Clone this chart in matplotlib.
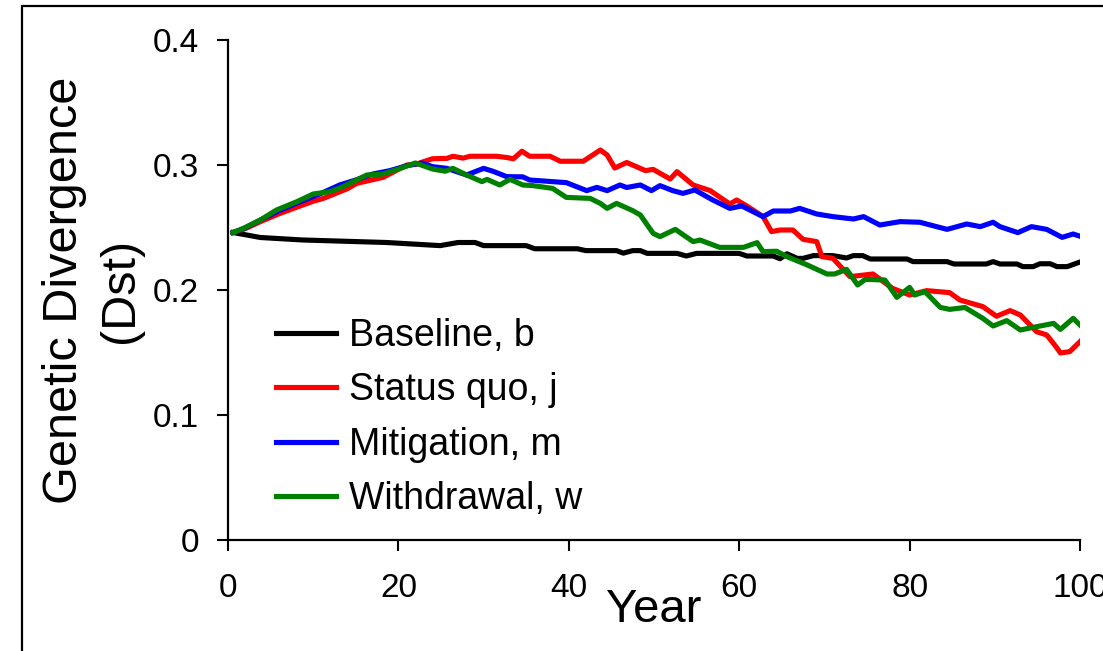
import matplotlib
matplotlib.use("Agg")
import matplotlib.pyplot as plt
from matplotlib.patches import Rectangle

plt.rcParams['font.family'] = ['Liberation Sans', 'DejaVu Sans']

# Baseline, b
base_yr = [0.6, 3.8, 8.8, 18.6, 24.9, 27, 29, 30, 35, 36, 41, 42, 45.6, 46.4, 47.5,
           48.4, 49.2, 52.7, 53.8, 55, 60, 60.9, 64, 64.8, 65.6, 66.8, 67.5, 68.7, 71,
           72.6, 73.4, 74.5, 75.4, 79.7, 80.4, 84.4, 85.2, 89, 89.8, 90.6, 92.6, 93.3,
           94.5, 95.3, 96.5, 97.3, 98.5, 100]
base_val = [0.246, 0.242, 0.240, 0.238, 0.2355, 0.238, 0.238, 0.2355, 0.2355, 0.233,
            0.233, 0.2315, 0.2315, 0.2295, 0.2315, 0.2315, 0.2293, 0.2293, 0.2272,
            0.2293, 0.2293, 0.2272, 0.2272, 0.225, 0.229, 0.2253, 0.2253, 0.2275,
            0.2275, 0.2256, 0.2275, 0.2275, 0.2248, 0.2248, 0.2227, 0.2227, 0.2208,
            0.2208, 0.2227, 0.2208, 0.2208, 0.2187, 0.2187, 0.221, 0.221, 0.2187,
            0.2187, 0.2224]

# Status quo, j
quo_yr = [0.6, 2, 3.8, 6, 7.7, 10, 11.2, 14, 15.1, 18.2, 21, 22, 24, 25.7, 26.4, 27.6,
          28.4, 31.5, 32.7, 33.5, 34.5, 35.4, 37.8, 39, 41.7, 43.7, 44.5, 45.4, 46.8,
          49, 49.9, 51.9, 52.7, 54.6, 56.6, 58.9, 59.7, 60.9, 62.8, 63.8, 64.8, 66.3,
          67.5, 69.1, 69.7, 71, 73, 75.7, 78, 80, 82, 84.7, 85.9, 88.6, 90.2, 91.8,
          93, 94.9, 96.1, 97.3, 97.7, 98.8, 100]
quo_val = [0.246, 0.249, 0.2547, 0.261, 0.2653, 0.271, 0.2733, 0.281, 0.2853, 0.2901,
           0.300, 0.3005, 0.305, 0.3053, 0.307, 0.3055, 0.307, 0.307, 0.306, 0.305,
           0.311, 0.307, 0.307, 0.303, 0.303, 0.312, 0.308, 0.2976, 0.302, 0.2955,
           0.2965, 0.2888, 0.2947, 0.284, 0.2795, 0.2688, 0.272, 0.2672, 0.2587,
           0.2467, 0.248, 0.248, 0.2405, 0.2387, 0.2267, 0.2253, 0.2107, 0.2128,
           0.2013, 0.196, 0.1995, 0.1979, 0.192, 0.1867, 0.179, 0.1835, 0.18, 0.1667,
           0.164, 0.1536, 0.1496, 0.1507, 0.1587]

# Mitigation, m
mit_yr = [0.6, 2, 3.8, 6, 8.5, 11, 13.1, 15, 17, 19, 21, 22.8, 24, 25.7, 28, 30, 31.1,
          32.7, 34.6, 35.4, 39.7, 42.1, 43.3, 44.5, 46, 46.8, 48.4, 49.7, 50.7, 52.2,
          53.4, 54.8, 56.9, 58.9, 60.3, 62.8, 64, 66, 67.1, 69.1, 71, 73.4, 74.6,
          76.5, 78.9, 81.2, 84.4, 86.7, 88.3, 89.8, 90.6, 92.7, 94.3, 96.1, 97.9,
          99.2, 100]
mit_val = [0.246, 0.2495, 0.256, 0.2635, 0.2707, 0.2775, 0.284, 0.288, 0.2928, 0.2955,
           0.2995, 0.3016, 0.2987, 0.2973, 0.292, 0.2973, 0.295, 0.2907, 0.2905,
           0.288, 0.2859, 0.2795, 0.2821, 0.2795, 0.284, 0.282, 0.284, 0.2795, 0.2835,
           0.2795, 0.2773, 0.28, 0.272, 0.2653, 0.2672, 0.2587, 0.2632, 0.2632,
           0.2653, 0.2608, 0.2587, 0.2568, 0.2587, 0.252, 0.2547, 0.2542, 0.2485,
           0.2528, 0.2507, 0.2542, 0.2507, 0.2459, 0.2507, 0.2485, 0.2421, 0.2448,
           0.243]

# Withdrawal, w
wd_yr = [0.6, 1.8, 3.8, 5.7, 8.1, 10, 12, 13.5, 16.3, 18.2, 20.2, 22, 24, 25.5, 26.4,
         28, 29.8, 30.4, 31.9, 33.1, 34.6, 35.8, 38.1, 39.7, 42.5, 43.7, 44.5, 45.6,
         47.5, 48.4, 49.9, 50.7, 52.5, 54.6, 55.4, 57.7, 60.5, 62.1, 62.8, 64.4, 65.6,
         68, 70.3, 71.2, 72.6, 73.9, 74.8, 77.1, 78.5, 80, 80.6, 81.8, 83.6, 84.7,
         86.5, 88.6, 89.8, 91.4, 93, 94.5, 96.9, 97.7, 99.2, 100]
wd_val = [0.246, 0.2493, 0.256, 0.264, 0.2707, 0.2768, 0.2787, 0.2827, 0.292, 0.2928,
          0.2973, 0.3016, 0.2968, 0.295, 0.2973, 0.292, 0.2867, 0.2885, 0.284, 0.2885,
          0.284, 0.2835, 0.2813, 0.2741, 0.2733, 0.2693, 0.2653, 0.2693, 0.2635, 0.26,
          0.2453, 0.2427, 0.2485, 0.2387, 0.24, 0.2341, 0.2341, 0.2379, 0.2307, 0.231,
          0.2267, 0.22, 0.2128, 0.2128, 0.2165, 0.204, 0.2085, 0.208, 0.1941, 0.2021,
          0.196, 0.1987, 0.1861, 0.1845, 0.186, 0.1773, 0.1712, 0.1755, 0.168, 0.1701,
          0.1733, 0.1685, 0.1773, 0.172]

x_ticks = [0, 20, 40, 60, 80, 100]
y_ticks = [0, 0.1, 0.2, 0.3, 0.4]
y_labels = ['0', '0.1', '0.2', '0.3', '0.4']

fig = plt.figure(figsize=(11.03, 6.51), dpi=100)
ax = fig.add_axes([228 / 1103, 111 / 651, 852 / 1103, 500 / 651])

lw = 3.7
ax.plot(base_yr, base_val, color='black', lw=lw, label='Baseline, b')
ax.plot(quo_yr, quo_val, color='#ff0000', lw=lw, label='Status quo, j')
ax.plot(mit_yr, mit_val, color='#0000ff', lw=lw, label='Mitigation, m')
ax.plot(wd_yr, wd_val, color='#008000', lw=lw, label='Withdrawal, w')

ax.set_xlim(0, 100)
ax.set_ylim(0, 0.4)
ax.set_xticks(x_ticks)
ax.set_yticks(y_ticks)
ax.set_yticklabels(y_labels)
for s in ['top', 'right']:
    ax.spines[s].set_visible(False)
for s in ['left', 'bottom']:
    ax.spines[s].set_linewidth(1.6)
ax.tick_params(axis='both', direction='out', length=8, width=1.5, labelsize=24)
ax.tick_params(axis='y', pad=13)
ax.tick_params(axis='x', pad=16)

ax.set_xlabel('Year', fontsize=34)
ax.xaxis.set_label_coords(0.5, -0.095)
ax.set_ylabel('Genetic Divergence\n(Dst)', fontsize=35, linespacing=1.3)
ax.yaxis.set_label_coords(-0.1, 0.5)

ax.legend(loc='upper left', bbox_to_anchor=(0.056, 0.444), frameon=False,
          fontsize=27, handlelength=1.6, handletextpad=0.35, labelspacing=0.49,
          borderpad=0, borderaxespad=0)

# outer frame
fig.add_artist(Rectangle((22 / 1103, -0.1), 1.2, 1.0908,
                         transform=fig.transFigure, fill=False, lw=1.6,
                         edgecolor='black', clip_on=False))

fig.savefig('out.png', dpi=100)
